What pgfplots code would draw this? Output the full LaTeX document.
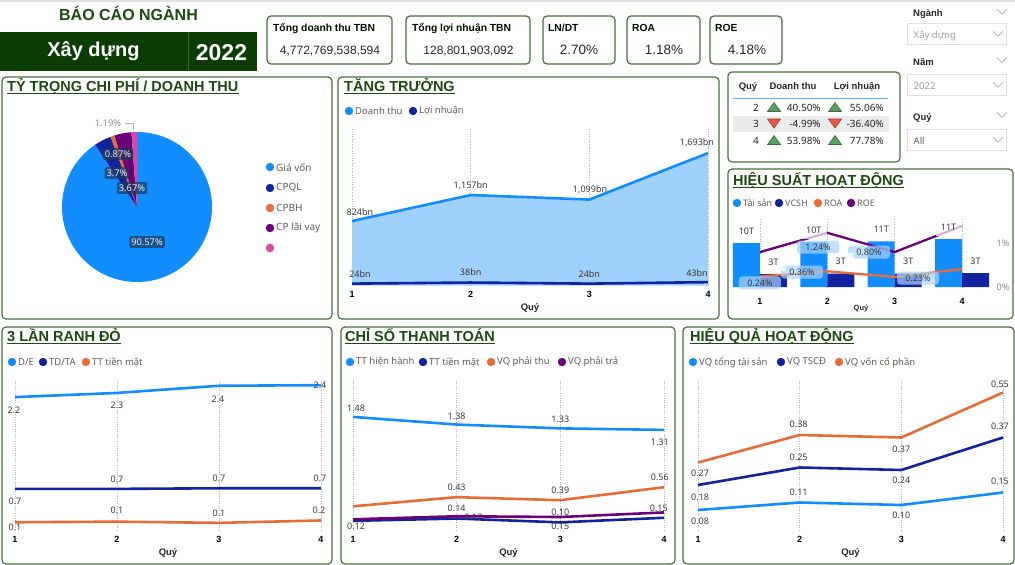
\documentclass[border=0pt]{standalone}
\usepackage{fontspec}
\setmainfont{Noto Sans}[BoldFont={Liberation Sans Bold}]
\newfontfamily\arial{Liberation Sans}
\usepackage{pgfplots}
\pgfplotsset{compat=1.18}
\usepackage{pgfplotstable}

\definecolor{pbBlue}{HTML}{118DFF}
\definecolor{pbNavy}{HTML}{12239E}
\definecolor{pbOrange}{HTML}{E66C37}
\definecolor{pbPurple}{HTML}{6B007B}
\definecolor{pbPink}{HTML}{E044A7}
\definecolor{areaBlue}{HTML}{A0D0FC}
\definecolor{bannerGreen}{HTML}{0B3D02}
\definecolor{titleGreen}{HTML}{1C4A10}
\definecolor{frameGreen}{HTML}{44733A}
\definecolor{txtGrey}{HTML}{605E5C}
\definecolor{lblGrey}{HTML}{3B3A39}
\definecolor{upGreen}{HTML}{5AA160}
\definecolor{downRed}{HTML}{E8584B}
\definecolor{pctBox}{HTML}{A9D3FA}
\definecolor{pieBox}{HTML}{1B3A5C}

\newcommand\fs[1]{\fontsize{#1}{#1}\selectfont}

\tikzset{
  frame/.style={draw=frameGreen, line width=1.2pt, rounded corners=4pt},
  ttl/.style={font=\arial\bfseries\fs{14.5}, text=titleGreen, inner sep=0pt, anchor=base west},
  leg/.style={font=\fs{9.5}, text=txtGrey, inner sep=0pt, anchor=west},
  lab/.style={font=\fs{9}, text=lblGrey, inner sep=0pt},
}
\newcommand\ptitle[3]{\node[ttl] (tt) at (#1,-#2) {#3};
  \draw[titleGreen, line width=0.9pt] ([yshift=-2pt]tt.base west) -- ([yshift=-2pt]tt.base east);}
\newcommand\legdot[4]{\fill[#4] (#1,-#2) circle (4.2pt); \node[leg] at (#1+6,-#2) {#3};}
\newcommand\uptri[2]{\filldraw[fill=upGreen, draw=upGreen!65!black, line width=0.6pt]
  (#1-6.5,-#2-4.5) -- (#1+6.5,-#2-4.5) -- (#1,-#2+4.5) -- cycle;}
\newcommand\dntri[2]{\filldraw[fill=downRed, draw=downRed!65!black, line width=0.6pt]
  (#1-6.5,-#2+4.5) -- (#1+6.5,-#2+4.5) -- (#1,-#2-4.5) -- cycle;}
\newcommand\chev[2]{\draw[black!40, line width=0.6pt] (#1-5,{-(#2)+2.5}) -- (#1,{-(#2)-2.5}) -- (#1+5,{-(#2)+2.5});}

\pgfplotsset{
  qax/.style={scale only axis, anchor=south west, clip=false, xmin=1, xmax=4, ymin=0,
    axis line style={draw=none}, tick style={draw=none},
    xtick={1,2,3,4}, xticklabels={1,2,3,4}, ytick=\empty,
    xmajorgrids, grid style={dotted, black!30, line width=0.6pt},
    xticklabel style={font=\bfseries\fs{9}, text=black, anchor=center, yshift=-9pt},
    xlabel={Quý}, xlabel style={font=\bfseries\fs{9.5}, text=black!85,
      at={(axis description cs:0.5,0)}, anchor=center, yshift=-23pt},
    every axis plot/.append style={line width=2.6pt, line join=round, mark=none}},
}

% ---- data ----
\pgfplotstableread{
q dt ln
1 824 24
2 1157 38
3 1099 24
4 1693 43
}\tgrow

\pgfplotstableread{
q ts vc roa roe tsl vcl
1 10.2 3.0 0.24 0.80 10T 3T
2 10.4 3.1 0.36 1.24 10T 3T
3 10.6 3.1 0.23 0.80 11T 3T
4 11.1 3.2 0.41 1.40 11T 3T
}\thieusuat

\pgfplotstableread{
q de tdta ttm
1 2.23 0.69 0.13
2 2.30 0.69 0.14
3 2.42 0.70 0.12
4 2.43 0.70 0.16
}\tranh

\pgfplotstableread{
q hh tm pthu ptra
1 1.48 0.12 0.31 0.14
2 1.38 0.15 0.43 0.18
3 1.33 0.10 0.39 0.17
4 1.31 0.16 0.56 0.23
}\ttoan

\pgfplotstableread{
q tts tscd vcp
1 0.08 0.18 0.27
2 0.11 0.25 0.38
3 0.10 0.24 0.37
4 0.15 0.37 0.55
}\thqua

% pie shares (%) : Gia von, CPQL, CPBH, CP lai vay, other
\def\sA{90.57}\def\sB{3.7}\def\sC{0.87}\def\sD{3.67}\def\sE{1.19}
\pgfmathsetmacro\pA{90-3.6*\sA}
\pgfmathsetmacro\pB{\pA-3.6*\sB}
\pgfmathsetmacro\pC{\pB-3.6*\sC}
\pgfmathsetmacro\pD{\pC-3.6*\sD}
\pgfmathsetmacro\pE{\pD-3.6*\sE}

\begin{document}
\begin{tikzpicture}[x=1pt,y=1pt]
\useasboundingbox (0,0) rectangle (1015,-565);
\fill[white] (0,0) rectangle (1015,-565);
\fill[black!12] (0,0) rectangle (1015,-1.5);

% ---- header ----
\node[font=\arial\bfseries\fs{16}, text=titleGreen, anchor=base, inner sep=0pt] at (128.5,-20.7) {BÁO CÁO NGÀNH};
\fill[bannerGreen] (0,-32) rectangle (257,-70.5);
\draw[bannerGreen!80!white, line width=0.8pt] (188,-32) -- (188,-70.5);
\node[font=\arial\bfseries\fs{20}, text=white, anchor=base, inner sep=0pt] at (93.5,-56) {Xây dựng};
\node[font=\arial\bfseries\fs{23}, text=white, anchor=base, inner sep=0pt] at (221.5,-60.7) {2022};

% ---- KPI cards ----
\foreach \xa/\xb/\hx/\vx/\hd/\vl/\vs in {
  267/392/273/330/Tổng doanh thu TBN/{4,772,769,538,594}/12,
  406/530/412/468.5/Tổng lợi nhuận TBN/{128,801,903,092}/12,
  543/615/548/579/LN\slash DT/2.70\%/13.5,
  627/700/632/664/ROA/1.18\%/13.5,
  710/782/715/747/ROE/4.18\%/13.5}{
  \draw[frame] (\xa,-16) rectangle (\xb,-64);
  \node[font=\arial\bfseries\fs{10.3}, text=black!85!green!40!black, anchor=base west, inner sep=0pt] at (\hx,-31) {\hd};
  \node[font=\arial\fs{\vs}, text=black!85, anchor=base, inner sep=0pt] at (\vx,-54) {\vl};
}

% ---- slicers ----
\foreach \cy/\by/\bt/\tc in {11.7/23/Xây dựng/black!38, 60/74/2022/black!38, 115/129/All/txtGrey}{
  \draw[black!12, line width=0.8pt] (907,-\by) rectangle (1006,-\by-21.5);
  \chev{998}{\by+10.8}
  \chev{1002}{\cy}
  \node[font=\fs{9.5}, text=\tc, anchor=base west, inner sep=0pt] at (913.5,-\by-15.3) {\bt};
}
\node[font=\bfseries\fs{9.5}, text=black!85, anchor=base west, inner sep=0pt] at (913,-16.7) {Ngành};
\node[font=\bfseries\fs{9.5}, text=black!85, anchor=base west, inner sep=0pt] at (913,-65.7) {Năm};
\node[font=\bfseries\fs{9.5}, text=black!85, anchor=base west, inner sep=0pt] at (913,-120.7) {Quý};

% ---- panel frames ----
\draw[frame] (2,-77) rectangle (332,-319);
\draw[frame] (338,-77) rectangle (719,-319);
\draw[frame] (728,-72) rectangle (900,-162);
\draw[frame] (728,-169) rectangle (1013,-319);
\draw[frame] (2,-327) rectangle (332,-564);
\draw[frame] (341,-327) rectangle (675,-564);
\draw[frame] (683,-327) rectangle (1014,-564);

% ---- panel 1 : pie ----
\ptitle{7}{91.5}{TỶ TRỌNG CHI PHÍ / DOANH THU}
\begin{axis}[at={(62pt,-282pt)}, anchor=south west, scale only axis, width=150pt, height=150pt,
  xmin=-1, xmax=1, ymin=-1, ymax=1, hide axis, clip=false]
  \fill[pbBlue]   (axis cs:0,0) -- ++(90:75pt)  arc[start angle=90,  end angle=\pA, radius=75pt] -- cycle;
  \fill[pbNavy]   (axis cs:0,0) -- ++(\pA:75pt) arc[start angle=\pA, end angle=\pB, radius=75pt] -- cycle;
  \fill[pbOrange] (axis cs:0,0) -- ++(\pB:75pt) arc[start angle=\pB, end angle=\pC, radius=75pt] -- cycle;
  \fill[pbPurple] (axis cs:0,0) -- ++(\pC:75pt) arc[start angle=\pC, end angle=\pD, radius=75pt] -- cycle;
  \fill[pbPink]   (axis cs:0,0) -- ++(\pD:75pt) arc[start angle=\pD, end angle=\pE, radius=75pt] -- cycle;
\end{axis}
\tikzset{piel/.style={font=\fs{9.3}, text=white!92!black, fill=pieBox, fill opacity=0.7, text opacity=1,
  rounded corners=2pt, inner xsep=2pt, inner ysep=2.5pt}}
\node[piel] at (118,-154) {0.87\%};
\node[piel] at (117,-173) {3.7\%};
\node[piel] at (132,-188) {3.67\%};
\node[piel] at (147,-242) {90.57\%};
\draw[black!30, line width=0.8pt] (125,-123) -- (133,-123) -- (133,-130);
\node[font=\fs{9.3}, text=black!45, inner sep=0pt] at (108,-123) {1.19\%};
\legdot{270}{167}{\fs{10}Giá vốn}{pbBlue}
\legdot{270}{188}{\fs{10}CPQL}{pbNavy}
\legdot{270}{208}{\fs{10}CPBH}{pbOrange}
\legdot{270}{228}{\fs{10}CP lãi vay}{pbPurple}
\legdot{270}{248}{}{pbPink}

% ---- panel 2 : growth ----
\ptitle{344}{91.5}{TĂNG TRƯỞNG}
\legdot{349}{111}{Doanh thu}{pbBlue}
\legdot{413}{111}{Lợi nhuận}{pbNavy}
\begin{axis}[qax, at={(352pt,-285.5pt)}, width=356pt, height=156.4pt, ymax=2000,
  xlabel style={yshift=0.5pt}]
  \addplot[draw=none, fill=areaBlue] table[x=q,y=dt]{\tgrow} \closedcycle;
  \addplot[pbBlue] table[x=q,y=dt]{\tgrow};
  \addplot[pbNavy] table[x=q,y=ln]{\tgrow};
  \node[lab] at (axis cs:1.067,940) {824bn};
  \node[lab] at (axis cs:2.0,1272) {1,157bn};
  \node[lab] at (axis cs:3.006,1221) {1,099bn};
  \node[lab] at (axis cs:3.907,1822) {1,693bn};
  \node[lab] at (axis cs:1.067,147) {24bn};
  \node[lab] at (axis cs:2.0,173) {38bn};
  \node[lab] at (axis cs:3.0,147) {24bn};
  \node[lab] at (axis cs:3.907,160) {43bn};
\end{axis}

% ---- table ----
\node[font=\bfseries\fs{9.5}, text=black!85, anchor=base, inner sep=0pt] at (748,-89) {Quý};
\node[font=\bfseries\fs{9.5}, text=black!85, anchor=base, inner sep=0pt] at (793,-89) {Doanh thu};
\node[font=\bfseries\fs{9.5}, text=black!85, anchor=base, inner sep=0pt] at (857,-89) {Lợi nhuận};
\draw[pbBlue!70, line width=1pt] (733,-98) -- (888,-98);
\fill[black!8] (733,-115.5) rectangle (889,-131.5);
\tikzset{tv/.style={font=\fs{10}, text=black!85, anchor=base east, inner sep=0pt}}
\node[tv] at (759,-111) {2}; \uptri{774}{107} \node[tv] at (821,-111) {40.50\%}; \uptri{835}{107} \node[tv] at (884,-111) {55.06\%};
\node[tv] at (759,-127.3) {3}; \dntri{774}{123.5} \node[tv] at (821,-127.3) {-4.99\%}; \dntri{835}{123.5} \node[tv] at (884,-127.3) {-36.40\%};
\node[tv] at (759,-144) {4}; \uptri{774}{140} \node[tv] at (821,-144) {53.98\%}; \uptri{835}{140} \node[tv] at (884,-144) {77.78\%};

% ---- panel 3 : performance ----
\ptitle{733}{185}{HIỆU SUẤT HOẠT ĐỘNG}
\legdot{737}{203}{\fs{9}Tài sản}{pbBlue}
\legdot{779}{203}{\fs{9}VCSH}{pbNavy}
\legdot{818}{203}{\fs{9}ROA}{pbOrange}
\legdot{851}{203}{\fs{9}ROE}{pbPurple}
\pgfplotsset{hsax/.style={scale only axis, anchor=south west, at={(733pt,-287pt)}, width=256pt, height=69pt,
  xmin=0.6, xmax=4.4, ymin=0, axis line style={draw=none}, tick style={draw=none}, clip=false}}
\begin{axis}[hsax, ymax=16, ybar, bar width=27pt,
  xtick={1,2,3,4}, xticklabels={1,2,3,4}, ytick=\empty,
  xmajorgrids, grid style={dotted, black!30, line width=0.6pt},
  xticklabel style={font=\bfseries\fs{9}, text=black, anchor=center, yshift=-10pt},
  xlabel={Quý}, xlabel style={font=\bfseries\fs{7.5}, text=black!85,
      at={(axis description cs:0.5,0)}, anchor=center, yshift=-22pt}]
  \addplot[fill=pbBlue, draw=none, bar shift=-13.5pt] table[x=q,y=ts]{\thieusuat};
  \addplot[fill=pbNavy, draw=none, bar shift=13.5pt] table[x=q,y=vc]{\thieusuat};
\end{axis}
\begin{axis}[hsax, ymax=1.58, xtick=\empty, ytick={0,1}, yticklabels={0\%,1\%}, yticklabel pos=right,
  yticklabel style={font=\fs{9}, text=black!45, anchor=center, xshift=14pt}]
  \addplot[pbOrange, line width=2.3pt, line join=round, mark=none] table[x=q,y=roa]{\thieusuat};
  \addplot[pbPurple, line width=2.3pt, line join=round, mark=none] table[x=q,y=roe]{\thieusuat};
  \tikzset{pl/.style={font=\fs{9}, text=lblGrey, fill=pctBox, fill opacity=0.7, text opacity=1,
    rounded corners=3pt, minimum width=42pt, minimum height=13pt, inner sep=0pt}}
  \node[pl] at (axis cs:1.0,0.092) {0.24\%};
  \node[pl] at (axis cs:1.624,0.343) {0.36\%};
  \node[pl] at (axis cs:1.862,0.916) {1.24\%};
  \node[pl] at (axis cs:2.619,0.80) {0.80\%};
  \node[pl] at (axis cs:3.346,0.206) {0.23\%};
\end{axis}
\begin{axis}[hsax, ymax=16, ybar, bar width=27pt, xtick=\empty, ytick=\empty,
  nodes near coords, point meta=explicit symbolic,
  every node near coord/.append style={anchor=center, yshift=12pt, fill=white, fill opacity=0.7,
    text opacity=1, font=\fs{9}, text=lblGrey, minimum width=26pt, minimum height=17pt, inner sep=0pt}]
  \addplot[draw=none, fill=none, bar shift=-13.5pt] table[x=q,y=ts,meta=tsl]{\thieusuat};
  \addplot[draw=none, fill=none, bar shift=13.5pt] table[x=q,y=vc,meta=vcl]{\thieusuat};
\end{axis}

% ---- panel 4 : 3 lan ranh do ----
\ptitle{7}{341.5}{3 LẦN RANH ĐỎ}
\legdot{12}{362}{D/E}{pbBlue}
\legdot{43}{362}{TD/TA}{pbNavy}
\legdot{86}{362}{TT tiền mặt}{pbOrange}
\begin{axis}[qax, at={(15pt,-530pt)}, width=306pt, height=149pt, ymax=2.5]
  \addplot[pbBlue] table[x=q,y=de]{\tranh};
  \addplot[pbNavy] table[x=q,y=tdta]{\tranh};
  \addplot[pbOrange] table[x=q,y=ttm]{\tranh};
  \node[lab] at (axis cs:0.99,2.013) {2.2};
  \node[lab] at (axis cs:2,2.097) {2.3};
  \node[lab] at (axis cs:2.99,2.198) {2.4};
  \node[lab] at (axis cs:3.99,2.433) {2.4};
  \node[lab] at (axis cs:1,0.487) {0.7};
  \node[lab] at (axis cs:2,0.856) {0.7};
  \node[lab] at (axis cs:3,0.872) {0.7};
  \node[lab] at (axis cs:3.99,0.872) {0.7};
  \node[lab] at (axis cs:1,0.05) {0.1};
  \node[lab] at (axis cs:2,0.324) {0.1};
  \node[lab] at (axis cs:3,0.28) {0.1};
  \node[lab] at (axis cs:3.98,0.324) {0.2};
\end{axis}

% ---- panel 5 : thanh toan ----
\ptitle{345}{341.5}{CHỈ SỐ THANH TOÁN}
\legdot{350}{362}{TT hiện hành}{pbBlue}
\legdot{423}{362}{TT tiền mặt}{pbNavy}
\legdot{491}{362}{VQ phải thu}{pbOrange}
\legdot{562}{362}{VQ phải trả}{pbPurple}
\begin{axis}[qax, at={(353pt,-530pt)}, width=311pt, height=149pt, ymax=1.95]
  \addplot[pbBlue] table[x=q,y=hh]{\ttoan};
  \addplot[pbOrange] table[x=q,y=pthu]{\ttoan};
  \addplot[pbNavy] table[x=q,y=tm]{\ttoan};
  \addplot[pbPurple] table[x=q,y=ptra]{\ttoan};
  \node[lab] at (axis cs:1.03,1.597) {1.48};
  \node[lab] at (axis cs:2,1.483) {1.38};
  \node[lab] at (axis cs:3,1.449) {1.33};
  \node[lab] at (axis cs:3.96,1.143) {1.31};
  \node[lab] at (axis cs:2,0.559) {0.43};
  \node[lab] at (axis cs:3,0.514) {0.39};
  \node[lab] at (axis cs:3.96,0.69) {0.56};
  \node[lab] at (axis cs:1.03,0.043) {0.12};
  \node[lab] at (axis cs:2,0.279) {0.14};
  \node[lab] at (axis cs:2.16,0.161) {0.17};
  \node[lab] at (axis cs:3,0.226) {0.10};
  \node[lab] at (axis cs:3,0.052) {0.15};
  \node[lab] at (axis cs:3.95,0.279) {0.15};
\end{axis}

% ---- panel 6 : hieu qua ----
\ptitle{690}{341.5}{HIỆU QUẢ HOẠT ĐỘNG}
\legdot{693}{362}{VQ tổng tài sản}{pbBlue}
\legdot{781}{362}{VQ TSCĐ}{pbNavy}
\legdot{839}{362}{VQ vốn cổ phần}{pbOrange}
\begin{axis}[qax, at={(698pt,-530pt)}, width=305pt, height=150pt, ymax=0.6]
  \addplot[pbBlue] table[x=q,y=tts]{\thqua};
  \addplot[pbNavy] table[x=q,y=tscd]{\thqua};
  \addplot[pbOrange] table[x=q,y=vcp]{\thqua};
  \node[lab] at (axis cs:1.02,0.227) {0.27};
  \node[lab] at (axis cs:1.99,0.423) {0.38};
  \node[lab] at (axis cs:3,0.323) {0.37};
  \node[lab] at (axis cs:3.97,0.583) {0.55};
  \node[lab] at (axis cs:1.02,0.131) {0.18};
  \node[lab] at (axis cs:1.99,0.291) {0.25};
  \node[lab] at (axis cs:3,0.197) {0.24};
  \node[lab] at (axis cs:3.97,0.413) {0.37};
  \node[lab] at (axis cs:1.02,0.036) {0.08};
  \node[lab] at (axis cs:1.99,0.152) {0.11};
  \node[lab] at (axis cs:3,0.06) {0.10};
  \node[lab] at (axis cs:3.97,0.196) {0.15};
\end{axis}
\end{tikzpicture}
\end{document}
